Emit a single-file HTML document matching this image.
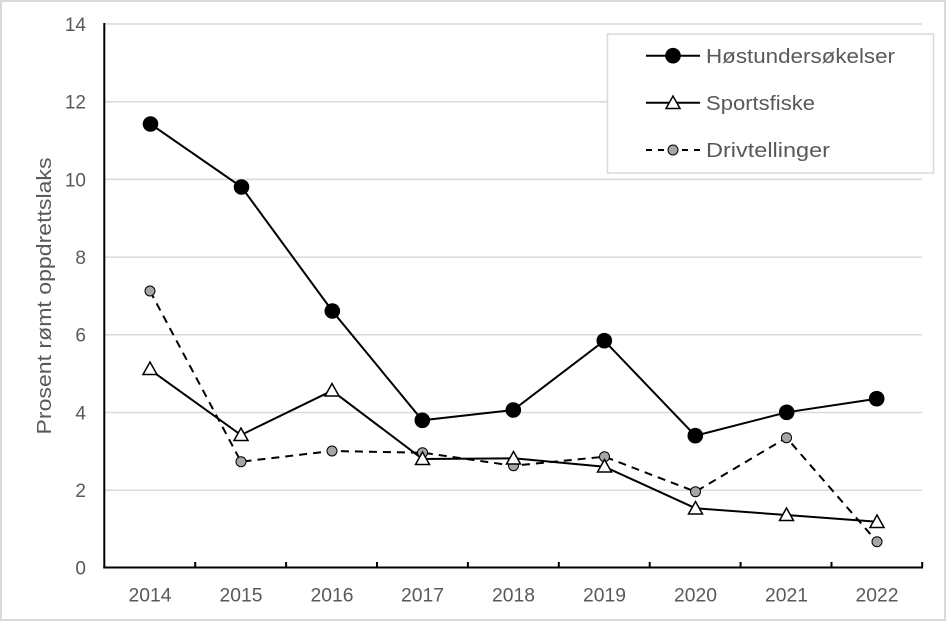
<!DOCTYPE html>
<html><head><meta charset="utf-8"><style>
html,body{margin:0;padding:0;background:#fff;}
svg{display:block;}
text{font-family:"Liberation Sans",Arial,sans-serif;fill:#595959;}
</style></head><body>
<svg width="946" height="621" viewBox="0 0 946 621" xmlns="http://www.w3.org/2000/svg">
<rect x="1" y="1" width="944" height="619" fill="#fff" stroke="#d9d9d9" stroke-width="2"/>
<!-- gridlines -->
<g stroke="#d9d9d9" stroke-width="1.5">
<line x1="105" y1="24" x2="922" y2="24"/>
<line x1="105" y1="101.7" x2="922" y2="101.7"/>
<line x1="105" y1="179.4" x2="922" y2="179.4"/>
<line x1="105" y1="257.1" x2="922" y2="257.1"/>
<line x1="105" y1="334.8" x2="922" y2="334.8"/>
<line x1="105" y1="412.5" x2="922" y2="412.5"/>
<line x1="105" y1="490.2" x2="922" y2="490.2"/>
</g>
<!-- axes -->
<line x1="104.3" y1="23" x2="104.3" y2="568.5" stroke="#000" stroke-width="2"/>
<line x1="103.3" y1="567.5" x2="923" y2="567.5" stroke="#000" stroke-width="2"/>
<g stroke="#000" stroke-width="2">
<line x1="195.2" y1="562" x2="195.2" y2="567"/>
<line x1="286.1" y1="562" x2="286.1" y2="567"/>
<line x1="377" y1="562" x2="377" y2="567"/>
<line x1="467.9" y1="562" x2="467.9" y2="567"/>
<line x1="558.8" y1="562" x2="558.8" y2="567"/>
<line x1="649.7" y1="562" x2="649.7" y2="567"/>
<line x1="740.6" y1="562" x2="740.6" y2="567"/>
<line x1="831.5" y1="562" x2="831.5" y2="567"/>
<line x1="922.2" y1="562" x2="922.2" y2="567"/>
</g>
<!-- y labels -->
<g font-size="19" text-anchor="end">
<text x="86" y="31">14</text>
<text x="86" y="108.5">12</text>
<text x="86" y="186.5">10</text>
<text x="86" y="264">8</text>
<text x="86" y="341.5">6</text>
<text x="86" y="419.5">4</text>
<text x="86" y="497">2</text>
<text x="86" y="574.5">0</text>
</g>
<!-- x labels -->
<g font-size="19" text-anchor="middle">
<text x="150" y="601.5" textLength="43" lengthAdjust="spacingAndGlyphs">2014</text>
<text x="241" y="601.5" textLength="43" lengthAdjust="spacingAndGlyphs">2015</text>
<text x="332" y="601.5" textLength="43" lengthAdjust="spacingAndGlyphs">2016</text>
<text x="422.5" y="601.5" textLength="43" lengthAdjust="spacingAndGlyphs">2017</text>
<text x="513.5" y="601.5" textLength="43" lengthAdjust="spacingAndGlyphs">2018</text>
<text x="604.5" y="601.5" textLength="43" lengthAdjust="spacingAndGlyphs">2019</text>
<text x="695.5" y="601.5" textLength="43" lengthAdjust="spacingAndGlyphs">2020</text>
<text x="786.5" y="601.5" textLength="43" lengthAdjust="spacingAndGlyphs">2021</text>
<text x="877" y="601.5" textLength="43" lengthAdjust="spacingAndGlyphs">2022</text>
</g>
<!-- axis title -->
<text transform="translate(51,296) rotate(-90)" font-size="20" text-anchor="middle" textLength="277" lengthAdjust="spacingAndGlyphs">Prosent rømt oppdrettslaks</text>

<!-- Drivtellinger dashed -->
<polyline fill="none" stroke="#000" stroke-width="2" stroke-dasharray="8,6" points="150,291 241,461.7 332,451 422.5,452.7 513.5,465.7 604.5,456.7 695.5,491.7 786.5,437.7 877,541.7"/>
<!-- Sportsfiske -->
<polyline fill="none" stroke="#000" stroke-width="2" points="150,369.7 241,435 332,390.7 422.5,459 513.5,458.3 604.5,466.7 695.5,508.3 786.5,515 877,521.7"/>
<!-- Høstundersøkelser -->
<polyline fill="none" stroke="#000" stroke-width="2" points="150.5,124 241.5,187 332.3,311 422.3,420.3 513.3,410 604.3,340.7 695.3,435.7 786.7,412.3 876.7,398.7"/>

<!-- Drivtellinger markers -->
<g fill="#a6a6a6" stroke="#000" stroke-width="1">
<circle cx="150" cy="291" r="5"/>
<circle cx="241" cy="461.7" r="5"/>
<circle cx="332" cy="451" r="5"/>
<circle cx="422.5" cy="452.7" r="5"/>
<circle cx="513.5" cy="465.7" r="5"/>
<circle cx="604.5" cy="456.7" r="5"/>
<circle cx="695.5" cy="491.7" r="5"/>
<circle cx="786.5" cy="437.7" r="5"/>
<circle cx="877" cy="541.7" r="5"/>
</g>
<!-- Sportsfiske triangles -->
<g fill="#fff" stroke="#000" stroke-width="1.5">
<path d="M150,362 L157,374.5 L143,374.5 Z"/>
<path d="M241,428 L248,440.5 L234,440.5 Z"/>
<path d="M332,383.5 L339,396 L325,396 Z"/>
<path d="M422.5,452 L429.5,464.5 L415.5,464.5 Z"/>
<path d="M513.5,451.5 L520.5,464 L506.5,464 Z"/>
<path d="M604.5,459.5 L611.5,472 L597.5,472 Z"/>
<path d="M695.5,501.5 L702.5,514 L688.5,514 Z"/>
<path d="M786.5,508 L793.5,520.5 L779.5,520.5 Z"/>
<path d="M877,515 L884,527.5 L870,527.5 Z"/>
</g>
<!-- Høst markers -->
<g fill="#000">
<circle cx="150.5" cy="124" r="7.8"/>
<circle cx="241.5" cy="187" r="7.8"/>
<circle cx="332.3" cy="311" r="7.8"/>
<circle cx="422.3" cy="420.3" r="7.8"/>
<circle cx="513.3" cy="410" r="7.8"/>
<circle cx="604.3" cy="340.7" r="7.8"/>
<circle cx="695.3" cy="435.7" r="7.8"/>
<circle cx="786.7" cy="412.3" r="7.8"/>
<circle cx="876.7" cy="398.7" r="7.8"/>
</g>

<!-- Legend -->
<rect x="607.5" y="34" width="326" height="139" fill="#fff" stroke="#d9d9d9" stroke-width="1.5"/>
<line x1="646" y1="55.7" x2="700" y2="55.7" stroke="#000" stroke-width="2"/>
<circle cx="673" cy="55.7" r="7.8" fill="#000"/>
<line x1="646" y1="102.7" x2="700" y2="102.7" stroke="#000" stroke-width="2"/>
<path d="M673,96 L680,108.5 L666,108.5 Z" fill="#fff" stroke="#000" stroke-width="1.5"/>
<line x1="646" y1="150" x2="700" y2="150" stroke="#000" stroke-width="2" stroke-dasharray="6,6"/>
<circle cx="673" cy="150" r="5" fill="#a6a6a6" stroke="#000" stroke-width="1"/>
<g font-size="20">
<text x="706" y="63" textLength="189" lengthAdjust="spacingAndGlyphs">Høstundersøkelser</text>
<text x="706" y="110" textLength="109" lengthAdjust="spacingAndGlyphs">Sportsfiske</text>
<text x="706" y="157" textLength="124" lengthAdjust="spacingAndGlyphs">Drivtellinger</text>
</g>
</svg>
</body></html>
